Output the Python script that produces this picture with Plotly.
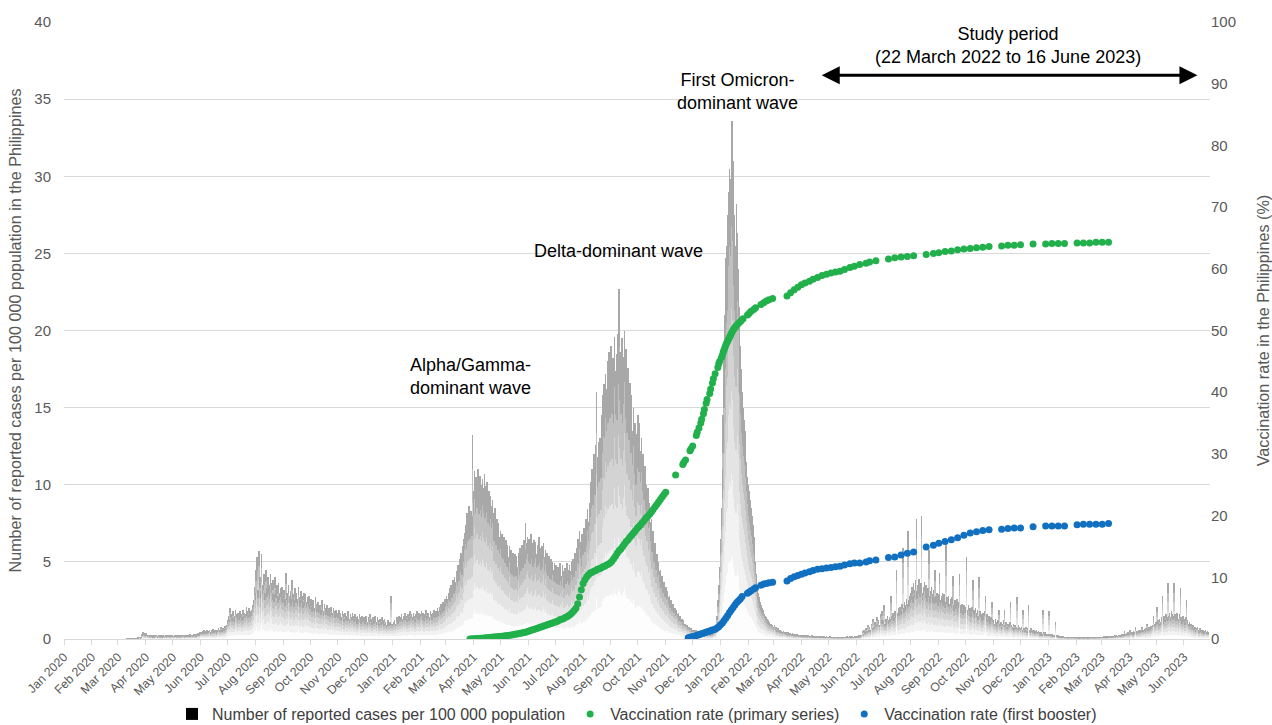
import pandas as pd
import plotly.graph_objects as go

# ---------------- daily reported cases per 100 000 population ----------------
cases_2020 = [
    0,0,0,0,0,0,0,0,0,0, 0,0,0,0,0,0,0,0,0,0, 0,0,0,0,0,0,0,0,0,0, 0,
    0,0,0,0,0,0,0,0,0,0, 0,0,0,0,0,0,0,0,0,0, 0,0,0,0,0,0,0,0,0,
    0,0,0,0,0,0,0,0,0,0, 0.01,0.01,0.02,0.02,0.03,0.02,0.03,0.04,0.03,0.05, 0.06,0.05,0.08,0.07,0.1,0.08,0.12,0.3,0.45,0.35, 0.25,
    0.38,0.3,0.22,0.25,0.2,0.18,0.22,0.2,0.15,0.2, 0.17,0.2,0.25,0.15,0.2,0.22,0.18,0.2,0.15,0.2, 0.22,0.18,0.2,0.17,0.22,0.2,0.25,0.18,0.2,0.22,
    0.2,0.18,0.22,0.2,0.25,0.18,0.2,0.22,0.17,0.2, 0.23,0.2,0.25,0.18,0.22,0.2,0.25,0.22,0.2,0.28, 0.22,0.25,0.2,0.3,0.25,0.28,0.22,0.3,0.35,0.3, 0.4,
    0.45,0.4,0.5,0.42,0.6,0.45,0.5,0.55,0.4,0.5, 0.6,0.45,0.55,0.5,0.65,0.5,0.55,0.6,0.45,0.6, 0.7,0.55,0.6,0.8,0.6,0.7,0.65,0.85,0.7,0.9,
    1.2,1.5,1.3,2.0,1.6,1.4,1.8,1.3,1.5,1.9, 1.6,1.4,1.7,1.5,1.8,1.6,1.4,1.9,1.5,1.7, 1.6,2.1,1.8,1.6,2.0,1.7,1.8,1.9,2.2,2.5, 3.4,
    3.0,4.5,5.3,3.2,5.7,4.0,3.1,5.5,3.5,3.8, 4.2,3.0,4.5,3.3,4.0,3.5,3.1,4.2,3.6,3.0, 3.8,2.9,4.0,3.2,3.5,2.8,3.6,3.0,3.3,2.9, 3.4,
    2.8,3.2,2.6,4.3,3.0,2.7,3.5,2.8,3.1,2.6, 3.8,2.9,2.5,3.3,2.8,3.0,2.6,3.4,2.7,2.5, 3.1,2.8,2.4,3.0,2.6,2.9,2.4,2.7,2.5,2.8,
    2.3,2.6,2.1,2.5,2.2,2.0,2.7,2.3,2.1,2.4, 2.0,2.2,1.9,2.5,2.1,1.8,2.3,2.0,1.9,2.2, 1.8,2.0,1.7,2.1,1.9,1.7,2.0,1.8,1.6,1.9, 1.7,
    1.6,1.9,1.5,1.7,1.4,1.8,1.6,1.3,1.7,1.5, 1.4,1.8,1.5,1.3,1.6,1.4,1.7,1.5,1.3,1.6, 1.4,1.2,1.5,1.3,1.6,1.4,1.2,1.5,1.3,1.4,
    1.2,1.5,1.3,1.1,1.4,1.2,1.6,1.3,1.1,1.4, 1.2,1.5,1.3,1.1,1.4,1.2,1.0,1.3,1.1,1.4, 1.2,1.0,1.3,1.1,0.9,1.0,1.2,1.0,1.1,2.8, 1.0,
]
cases_2021 = [
    1.0,1.1,1.2,1.0,1.3,1.4,1.2,1.5,1.3,1.4, 1.6,1.3,1.5,1.4,1.7,1.5,1.3,1.6,1.4,1.8, 1.5,1.6,1.4,1.7,1.5,1.3,1.6,1.8,1.5,1.7, 1.4,
    1.6,1.8,1.5,1.7,1.4,1.6,1.9,1.5,1.7,1.6, 1.4,1.8,1.6,1.5,1.7,1.9,1.6,1.8,1.7,2.0, 1.8,2.1,1.9,2.3,2.0,2.4,2.2,2.6,
    2.5,2.8,2.6,3.0,3.3,2.9,3.5,3.2,3.8,3.5, 4.0,3.7,4.4,4.1,4.8,4.5,5.2,5.6,5.0,6.0, 6.5,6.9,7.4,7.0,8.2,7.6,8.6,7.8,8.3,8.0, 13.2,
    9.6,10.9,9.8,10.5,10.2,11.0,9.7,10.6,10.0,9.5, 10.4,9.8,10.7,9.4,9.9,10.2,9.0,9.6,8.8,9.3, 8.6,9.0,8.2,7.6,8.5,7.3,7.8,6.9,7.5,6.6,
    7.0,6.4,6.8,6.2,6.6,5.9,6.4,5.6,6.1,5.3, 6.0,5.1,5.8,5.0,5.6,4.8,5.5,4.9,5.4,4.7, 5.6,5.0,5.9,5.3,6.1,5.5,6.4,5.8,7.5,6.2, 6.6,
    6.0,6.5,5.8,6.8,6.2,5.6,6.4,5.9,6.3,5.5, 6.1,5.7,6.6,5.9,5.4,6.0,5.6,6.2,5.3,5.8, 5.1,5.6,4.9,5.4,4.7,5.2,4.6,5.0,4.5,4.9,
    4.4,4.8,4.3,4.7,4.2,4.9,4.5,4.1,4.8,4.4, 4.0,4.6,4.3,4.9,4.5,4.2,4.8,4.4,5.0,4.6, 5.2,4.8,5.6,5.3,5.9,6.5,5.8,7.0,6.3,5.7, 6.8,
    6.5,7.2,6.8,7.8,7.2,8.4,7.6,8.8,9.5,10.2, 11.0,10.4,12.0,11.2,12.6,16.0,11.8,12.8,12.2,13.0, 12.5,14.5,15.8,16.5,15.6,17.2,16.2,18.0,16.8,18.6, 17.2,
    19.0,17.5,18.2,16.8,19.6,17.4,18.5,17.0,19.8,22.7, 18.6,17.5,19.5,16.8,18.3,20.0,17.2,18.8,16.0,17.6, 15.5,16.6,14.5,15.8,13.5,15.0,12.8,14.0,12.0,13.3,
    14.5,13.0,14.0,12.2,13.0,11.5,12.0,10.8,11.2,10.0, 9.5,9.8,8.6,8.8,7.6,7.8,6.8,7.0,6.0,6.2, 5.4,5.5,4.8,5.0,4.4,4.5,4.0,4.1,3.6,3.7, 3.3,
    3.4,3.0,3.1,2.7,2.8,2.4,2.5,2.2,2.3,2.0, 2.0,1.8,1.9,1.6,1.7,1.4,1.5,1.3,1.3,1.1, 1.2,1.0,1.0,0.9,0.9,0.8,0.8,0.7,0.7,0.6,
    0.6,0.55,0.6,0.5,0.55,0.45,0.5,0.45,0.5,0.4, 0.45,0.4,0.42,0.35,0.4,0.35,0.38,0.32,0.35,0.3, 0.35,0.32,0.38,0.4,0.5,0.6,0.9,1.5,2.5,3.5, 4.7,
]
cases_2022 = [
    6.5,8.5,11.0,14.5,18.0,21.0,24.7,25.5,27.5,29.0, 30.5,29.8,32.1,33.6,31.0,27.5,25.5,24.5,28.2,26.3, 24.0,21.5,19.0,17.5,16.0,15.0,14.2,13.5,12.5,11.5, 10.5,
    10.0,9.6,9.0,8.5,8.0,7.4,6.6,5.8,5.0,4.2, 3.5,3.0,2.7,2.4,2.2,2.0,1.9,1.8,1.6,1.5, 1.4,1.3,1.2,1.1,1.0,1.0,0.9,0.9,
    0.8,0.9,0.7,0.8,0.6,0.7,0.6,0.5,0.6,0.5, 0.45,0.5,0.4,0.45,0.4,0.35,0.4,0.35,0.3,0.35, 0.3,0.35,0.3,0.25,0.3,0.25,0.3,0.25,0.2,0.25, 0.2,
    0.22,0.2,0.18,0.22,0.2,0.18,0.2,0.17,0.2,0.15, 0.18,0.16,0.2,0.15,0.17,0.14,0.16,0.15,0.13,0.16, 0.14,0.12,0.15,0.13,0.14,0.12,0.13,0.11,0.14,0.12,
    0.12,0.1,0.13,0.11,0.12,0.1,0.11,0.09,0.12,0.1, 0.11,0.09,0.1,0.12,0.1,0.09,0.11,0.1,0.12,0.1, 0.11,0.13,0.1,0.12,0.14,0.11,0.13,0.15,0.12,0.14, 0.16,
    0.14,0.18,0.15,0.2,0.17,0.22,0.25,0.5,0.3,0.6, 0.45,0.7,0.5,0.9,0.6,0.8,0.55,1.0,0.7,1.3, 0.8,1.1,0.9,1.4,1.0,1.2,0.9,1.6,1.2,1.8,
    1.2,2.2,1.0,1.3,1.1,1.5,1.2,1.4,1.3,2.8, 1.5,1.7,1.4,1.8,1.6,4.5,1.7,2.0,1.8,2.1, 1.9,2.3,5.9,2.0,2.4,2.2,2.6,2.3,7.0,2.5, 2.8,
    3.0,3.4,2.8,3.6,3.2,3.8,7.8,3.1,3.5,3.9, 3.3,3.6,8.0,3.0,3.4,3.7,3.2,3.5,2.9,3.3, 5.8,2.8,3.1,3.4,2.9,3.2,2.7,4.5,2.8,3.0, 2.6,
    2.9,4.3,2.5,2.8,3.0,2.6,2.9,2.4,6.1,2.7, 2.5,2.8,2.3,2.6,2.4,2.7,4.1,2.2,2.5,2.3, 2.6,2.1,2.4,4.2,2.2,2.0,2.3,1.9,2.2,2.0,
    2.1,5.3,1.9,2.2,1.8,2.0,1.7,2.1,3.8,1.9, 1.6,2.0,1.7,1.9,1.5,4.0,1.8,1.6,1.4,1.7, 1.5,1.8,2.8,1.4,1.6,1.3,1.5,1.2,1.4,2.4, 1.3,
    1.2,1.0,1.3,1.1,0.9,1.2,1.9,1.0,1.1,0.8, 1.0,1.2,1.9,0.9,1.1,0.8,1.0,0.9,1.1,2.4, 0.9,0.8,1.0,0.7,0.9,0.8,2.7,0.7,0.9,0.8,
    0.7,0.8,0.6,1.9,0.7,0.6,0.8,0.5,0.7,2.2, 0.6,0.5,0.7,0.6,0.5,0.6,0.4,0.5,0.6,0.4, 0.5,0.4,0.3,0.4,0.3,1.9,0.4,0.3,0.4,0.3, 0.3,
]
cases_2023 = [
    0.3,1.8,0.3,0.25,0.3,0.2,0.25,0.2,1.1,0.2, 0.18,0.2,0.15,0.18,0.12,0.15,0.12,0.14,0.1,0.12, 0.1,0.12,0.09,0.11,0.1,0.12,0.09,0.1,0.08,0.1, 0.09,
    0.08,0.1,0.09,0.07,0.08,0.1,0.08,0.09,0.07,0.08, 0.1,0.08,0.09,0.07,0.1,0.08,0.09,0.11,0.08,0.1, 0.09,0.11,0.08,0.1,0.12,0.09,0.11,0.1,
    0.1,0.12,0.1,0.13,0.11,0.14,0.12,0.15,0.13,0.16, 0.14,0.17,0.15,0.18,0.16,0.2,0.17,0.22,0.19,0.24, 0.2,0.25,0.22,0.28,0.25,0.3,0.5,0.3,0.35,0.32, 0.4,
    0.35,0.6,0.4,0.45,0.38,0.5,0.42,0.8,0.45,0.5, 0.48,0.55,0.5,0.6,0.8,0.55,0.6,0.65,0.58,0.7, 1.0,0.65,0.75,0.7,0.85,0.8,0.9,1.5,0.9,1.0,
    1.1,2.1,1.2,1.0,1.3,1.1,1.4,2.8,1.2,1.5, 1.3,1.6,1.4,3.6,1.5,1.7,1.4,1.8,1.6,1.5, 3.6,1.6,1.4,1.7,1.5,1.3,1.6,3.3,1.4,1.2, 1.5,
    1.3,1.1,1.4,2.5,1.2,1.0,1.1,0.9,1.0,0.8, 0.9,0.7,0.8,0.6,0.7,0.8,0.6,0.5,0.7,0.6, 0.5,0.6,0.4,0.5,0.6,0.4,0.5,0.45,
]
cases_start = "2020-01-01"

# ---------------- vaccination rate (%) ----------------
# primary series, dense part: every second day from 28 March 2021
primary_dense_start = "2021-03-28"
primary_dense = [
    0.0,0.02,0.04,0.06,0.08,0.1,0.12,0.14,0.16,0.19,0.22,0.25,0.28,0.31,0.33,0.36,0.39,
    0.42,0.45,0.48,0.51,0.55,0.6,0.65,0.7,0.75,0.8,0.86,0.92,0.98,1.04,1.1,1.2,
    1.3,1.4,1.5,1.6,1.7,1.8,1.9,2.0,2.1,2.2,2.3,2.4,2.5,2.6,2.7,
    2.8,2.9,3.1,3.2,3.3,3.5,3.6,3.8,4.0,4.3,4.6,5.0,5.7,6.8,8.0,
    9.0,9.6,10.1,10.4,10.7,10.8,11.0,11.1,11.3,11.4,11.5,11.7,11.8,12.0,12.1,12.3,
    12.6,13.0,13.4,13.9,14.3,14.6,15.0,15.4,15.8,16.1,16.5,16.8,17.2,17.5,17.9,
    18.2,18.5,18.9,19.2,19.6,19.9,20.2,20.6,21.0,21.4,21.8,22.2,22.6,23.0,23.4,23.8,
]
primary_dates = [
    "2021-11-12","2021-11-20","2021-11-21","2021-11-23","2021-11-28","2021-11-29","2021-12-01",
    "2021-12-05","2021-12-06","2021-12-08","2021-12-10","2021-12-11","2021-12-13","2021-12-14",
    "2021-12-16","2021-12-17","2021-12-20","2021-12-21","2021-12-23","2021-12-24","2021-12-26",
    "2021-12-29","2021-12-30","2021-12-31","2022-01-02","2022-01-03","2022-01-04","2022-01-05",
    "2022-01-06","2022-01-07","2022-01-08","2022-01-09","2022-01-10","2022-01-11","2022-01-12",
    "2022-01-13","2022-01-14","2022-01-15","2022-01-16","2022-01-17","2022-01-18","2022-01-20",
    "2022-01-22","2022-01-24","2022-01-26","2022-01-31","2022-02-02","2022-02-04","2022-02-07",
    "2022-02-09","2022-02-15","2022-02-18","2022-02-21","2022-02-24","2022-02-28",
]
primary_vals = [
    26.6,28.3,28.6,29.0,30.5,30.8,31.3,
    33.0,33.5,34.2,35.0,35.6,36.5,37.2,
    38.2,38.8,39.8,40.5,41.5,42.2,43.0,
    44.0,44.6,45.0,45.6,46.0,46.5,46.9,
    47.3,47.7,48.0,48.3,48.6,48.9,49.2,
    49.5,49.8,50.1,50.3,50.5,50.7,51.0,
    51.3,51.6,51.9,52.5,52.8,53.1,53.4,
    53.7,54.2,54.5,54.8,55.0,55.2,
]
# booster, dense part: every second day from 26 November 2021
booster_dense_start = "2021-11-26"
booster_dense = [
    0.2,0.3,0.35,0.4,0.5,0.6,0.7,0.8,0.9,1.0,1.1,1.2,1.3,1.4,1.5,1.6,
    1.8,2.0,2.3,2.6,3.0,3.4,3.8,4.3,4.7,5.1,5.5,5.9,6.2,6.5,6.9,
]
booster_dates = ["2022-01-31","2022-02-02","2022-02-04","2022-02-07","2022-02-09",
                 "2022-02-15","2022-02-18","2022-02-21","2022-02-24","2022-02-28"]
booster_vals = [7.4,7.6,7.8,8.1,8.3,8.7,8.9,9.0,9.1,9.2]

# common reporting dates from mid-March 2022
late_dates = [
    "2022-03-16","2022-03-20","2022-03-24","2022-03-28","2022-04-01","2022-04-05","2022-04-10",
    "2022-04-14","2022-04-19","2022-04-24","2022-04-29","2022-05-04","2022-05-09",
    "2022-05-14","2022-05-19","2022-05-25","2022-05-30","2022-06-05","2022-06-12","2022-06-16",
    "2022-06-23","2022-07-07","2022-07-14","2022-07-21","2022-07-28","2022-08-04","2022-08-18",
    "2022-08-26","2022-09-01","2022-09-08","2022-09-15","2022-09-22","2022-09-29","2022-10-06",
    "2022-10-13","2022-10-20","2022-10-27","2022-11-10","2022-11-17","2022-11-24","2022-12-01",
    "2022-12-15","2022-12-29","2023-01-05","2023-01-12","2023-01-19","2023-02-02","2023-02-09",
    "2023-02-16","2023-02-23","2023-03-02","2023-03-09",
]
late_primary = [
    55.6,56.1,56.6,57.0,57.4,57.7,58.0,58.3,58.6,58.9,59.1,59.3,59.5,
    59.6,59.9,60.2,60.4,60.7,60.9,61.1,61.3,61.6,61.8,61.9,62.0,62.1,62.3,
    62.5,62.6,62.8,62.9,63.1,63.2,63.3,63.4,63.5,63.6,63.7,63.8,63.8,63.9,
    64.0,64.0,64.1,64.1,64.1,64.2,64.2,64.2,64.3,64.3,64.3,
]
late_booster = [
    9.4,9.8,10.1,10.3,10.5,10.7,10.9,11.1,11.3,11.4,11.5,11.6,11.7,
    11.8,12.0,12.2,12.3,12.3,12.5,12.7,12.8,13.2,13.3,13.6,13.9,14.1,14.9,
    15.2,15.5,15.8,16.1,16.4,16.8,17.2,17.4,17.6,17.7,17.8,17.9,18.0,18.0,
    18.2,18.3,18.3,18.3,18.3,18.5,18.6,18.6,18.6,18.6,18.7,
]

# ---------------- assemble ----------------
cases = cases_2020 + cases_2021 + cases_2022 + cases_2023
case_dates = pd.date_range(cases_start, periods=len(cases), freq="D")

g_x = list(pd.date_range(primary_dense_start, periods=len(primary_dense), freq="2D")) \
    + list(pd.to_datetime(primary_dates)) + list(pd.to_datetime(late_dates))
g_y = primary_dense + primary_vals + late_primary
b_x = list(pd.date_range(booster_dense_start, periods=len(booster_dense), freq="2D")) \
    + list(pd.to_datetime(booster_dates)) + list(pd.to_datetime(late_dates))
b_y = booster_dense + booster_vals + late_booster

FONT = "Liberation Sans, Arial, sans-serif"
GRID = "#d9d9d9"
TXT = "#595959"
GREEN = "#21b04b"
BLUE = "#1170c0"
seg_colors = ["#fdfdfd", "#f2f2f2", "#e4e4e4", "#d3d3d3", "#c0c0c0", "#a8a8a8"]

fig = go.Figure()
# legend entry for the case bars
fig.add_trace(go.Bar(x=[None], y=[None], name="Number of reported cases per 100 000 population",
                     marker=dict(color="black", line=dict(width=0))))
n_seg = len(seg_colors)
for c in seg_colors:
    fig.add_trace(go.Bar(x=case_dates, y=[v / n_seg for v in cases],
                         marker=dict(color=c, line=dict(width=0)),
                         showlegend=False, hoverinfo="skip"))
fig.add_trace(go.Scatter(x=g_x, y=g_y, mode="markers", yaxis="y2",
                         name="Vaccination rate (primary series)",
                         marker=dict(color=GREEN, size=7)))
fig.add_trace(go.Scatter(x=b_x, y=b_y, mode="markers", yaxis="y2",
                         name="Vaccination rate (first booster)",
                         marker=dict(color=BLUE, size=7)))

ann_font = dict(family=FONT, size=18, color="black")
annotations = [
    dict(x="2021-01-18", y=17.0, xref="x", yref="y", text="Alpha/Gamma-<br>dominant wave",
         showarrow=False, xanchor="left", yanchor="middle", align="left", font=ann_font),
    dict(x="2021-09-09", y=25.15, xref="x", yref="y", text="Delta-dominant wave",
         showarrow=False, xanchor="center", yanchor="middle", font=ann_font),
    dict(x="2022-01-20", y=35.5, xref="x", yref="y", text="First Omicron-<br>dominant wave",
         showarrow=False, xanchor="center", yanchor="middle", align="center", font=ann_font),
    dict(x="2022-11-17", y=38.45, xref="x", yref="y",
         text="Study period<br>(22 March 2022 to 16 June 2023)",
         showarrow=False, xanchor="center", yanchor="middle", align="center", font=ann_font),
    dict(x="2023-06-16", y=36.55, xref="x", yref="y", ax="2022-04-22", ay=36.55,
         axref="x", ayref="y", text="", showarrow=True, arrowhead=2, arrowside="end+start",
         arrowsize=1.2, arrowwidth=3, arrowcolor="black"),
]

fig.update_layout(
    width=1272, height=725,
    margin=dict(l=64, r=62, t=22, b=86, autoexpand=False),
    paper_bgcolor="white", plot_bgcolor="white",
    font=dict(family=FONT, color=TXT),
    barmode="stack", bargap=0.35,
    showlegend=True,
    legend=dict(orientation="h", x=0.5, xanchor="center", y=-0.1216, yanchor="middle",
                traceorder="normal", font=dict(family=FONT, size=16, color="#404040"),
                bgcolor="rgba(0,0,0,0)"),
    xaxis=dict(type="date", range=["2020-01-01", "2023-06-30"], dtick="M1", tick0="2020-01-01",
               tickformat="%b %Y", tickangle=-45, ticks="outside", ticklen=5, tickcolor=GRID,
               showline=True, linecolor=GRID, linewidth=1, showgrid=False, zeroline=False,
               automargin=False,
               tickfont=dict(family=FONT, size=12.3, color=TXT)),
    yaxis=dict(range=[0, 40], dtick=5, showgrid=True, gridcolor=GRID, gridwidth=1,
               zeroline=False, showline=False, ticks="", automargin=False,
               ticklabelstandoff=12,
               tickfont=dict(family=FONT, size=15, color=TXT),
               title=dict(text="Number of reported cases per 100 000 population in the Philippines",
                          font=dict(family=FONT, size=16.2, color=TXT), standoff=8)),
    yaxis2=dict(overlaying="y", side="right", range=[0, 100], dtick=10, showgrid=False,
                zeroline=False, showline=False, ticks="", automargin=False,
                tickfont=dict(family=FONT, size=15, color=TXT),
                title=dict(text="Vaccination rate in the Philippines (%)",
                           font=dict(family=FONT, size=16.2, color=TXT), standoff=23)),
    annotations=annotations,
)

fig.write_html("out.html")
